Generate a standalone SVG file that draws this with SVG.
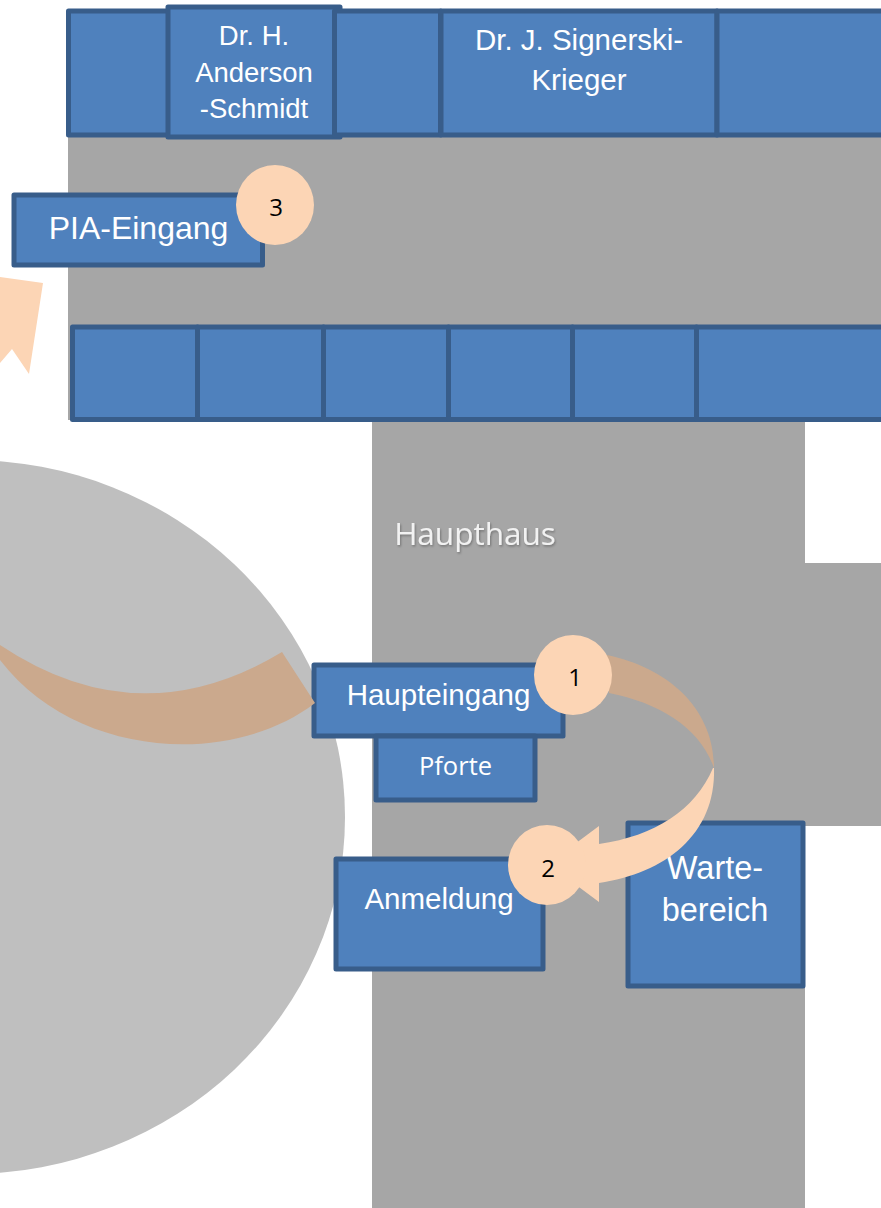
<svg xmlns="http://www.w3.org/2000/svg" width="881" height="1208" viewBox="0 0 881 1208">
<defs>
<filter id="soft" x="-10%" y="-20%" width="120%" height="150%"><feDropShadow dx="1" dy="1.500" stdDeviation="1" flood-color="#000" flood-opacity="0.3"/></filter>
</defs>
<style>
.b{fill:#4f81bd;stroke:#385d8a;stroke-width:5;stroke-linejoin:round}
.g{fill:#a6a6a6}
.t{font-family:"Liberation Sans",Arial,sans-serif;fill:#fff;text-anchor:middle}
.c{font-family:"Open Sans","Noto Sans",sans-serif;fill:#fff;text-anchor:middle}
.n{fill:#fcd5b5}
.nt{font-family:"Open Sans","Noto Sans",sans-serif;font-size:24px;fill:#000;text-anchor:middle}
</style>
<rect width="881" height="1208" fill="#fff"/>
<g id="building">
<rect class="g" x="68" y="12" width="813" height="408"/>
<rect class="g" x="372" y="420" width="433" height="788"/>
<rect class="g" x="805" y="563" width="76" height="263"/>
<ellipse cx="-32" cy="817" rx="377" ry="357" fill="#bfbfbf"/>
<text class="c" x="475" y="545" font-size="31.500" style="fill:#f2f2f2" filter="url(#soft)">Haupthaus</text>
</g>
<g id="top-row">
<rect class="b" x="68.500" y="11" width="105" height="124"/>
<rect class="b" x="168" y="7" width="172" height="130"/>
<rect class="b" x="334.500" y="11" width="106" height="124"/>
<rect class="b" x="441" y="11" width="276" height="124"/>
<rect class="b" x="717" y="11" width="170" height="124"/>
</g>
<g id="node-anderson">
<text class="t" font-size="27.500"><tspan x="254" y="45">Dr. H.</tspan><tspan x="254" y="82">Anderson</tspan><tspan x="254" y="118">-Schmidt</tspan></text></g>
<g id="node-signerski"><text class="t" font-size="29.500"><tspan x="579" y="50">Dr. J. Signerski-</tspan><tspan x="579" y="90">Krieger</tspan></text></g>
<g id="bottom-row">
<rect class="b" x="72.500" y="327" width="125" height="92.500"/>
<rect class="b" x="197.500" y="327" width="126" height="92.500"/>
<rect class="b" x="323.500" y="327" width="125" height="92.500"/>
<rect class="b" x="448.500" y="327" width="124" height="92.500"/>
<rect class="b" x="572.500" y="327" width="124" height="92.500"/>
<rect class="b" x="696.500" y="327" width="190" height="92.500"/>
</g>
<g id="node-pia"><rect class="b" x="14" y="195" width="248.500" height="70"/><text class="t" x="138.500" y="239" font-size="32">PIA-Eingang</text></g>
<g id="node-haupteingang"><rect class="b" x="314" y="665" width="249" height="71"/><text class="t" x="438.500" y="705" font-size="29.500">Haupteingang</text></g>
<g id="node-pforte"><rect class="b" x="376" y="736" width="159" height="64"/><text class="c" x="455.500" y="775" font-size="25.500">Pforte</text></g>
<g id="node-anmeldung"><rect class="b" x="336" y="859" width="207" height="110"/><text class="t" x="439" y="909" font-size="29.500">Anmeldung</text></g>
<g id="node-warte"><rect class="b" x="628" y="823" width="175" height="163"/><text class="t" font-size="32.500"><tspan x="715" y="879">Warte-</tspan><tspan x="715" y="921">bereich</tspan></text></g>
<g id="connectors">
<path d="M0 645Q139 738 282 652L315 703C230 768 75 758 0 660Z" fill="#cba98d"/>
<path d="M0 277L43 283L29 374L12 349L0 363Z" fill="#fcd5b5"/>
<path d="M607 655C668 668 714 708 714 768C700 728 660 703 609 693Z" fill="#cba98d"/>
<path d="M713 768C695 810 655 836 599 844L599 826L548 864L599 902L599 883C665 873 716 835 714 768Z" fill="#fcd5b5"/>
</g>
<g id="badge-1"><ellipse class="n" cx="573" cy="675" rx="39" ry="40"/><text class="nt" x="575" y="686">1</text></g>
<g id="badge-2"><ellipse class="n" cx="547" cy="865" rx="39" ry="40"/><text class="nt" x="548" y="877">2</text></g>
<g id="badge-3"><ellipse class="n" cx="275" cy="205" rx="39" ry="40"/><text class="nt" x="276" y="216">3</text></g>
</svg>
